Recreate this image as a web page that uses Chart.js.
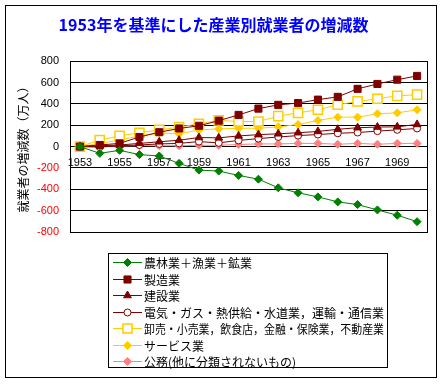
<!DOCTYPE html>
<html>
<head>
<meta charset="utf-8">
<script src="https://cdn.jsdelivr.net/npm/chart.js@4.4.0/dist/chart.umd.min.js"></script>
<style>
  html, body { margin: 0; padding: 0; background: #fff; }
</style>
</head>
<body>
<canvas id="chart_here" width="442" height="384"></canvas>
<script>
'use strict';
// chart data (change from 1953, in 10,000 persons)
var years = ['1953', '1954', '1955', '1956', '1957', '1958', '1959', '1960', '1961',
  '1962', '1963', '1964', '1965', '1966', '1967', '1968', '1969', '1970'];
var seriesNames = ['農林業＋漁業＋鉱業', '製造業', '建設業',
  '電気・ガス・熱供給・水道業，運輸・通信業', '卸売・小売業，飲食店，金融・保険業，不動産業',
  'サービス業', '公務(他に分類されないもの)'];
var agriculture = [0, -63, -35, -75, -88, -157, -220, -229, -270, -305, -386, -433, -471, -518, -543, -593, -643, -703];
var manufacturing = [0, 15, 30, 90, 135, 170, 195, 243, 297, 356, 391, 408, 440, 466, 541, 587, 627, 662];
var construction = [0, 8, 15, 30, 45, 60, 85, 82, 100, 112, 120, 130, 142, 162, 177, 183, 185, 208];
var utilities = [0, -5, 8, 15, 25, 30, 47, 35, 58, 75, 90, 103, 113, 125, 132, 145, 157, 170];
var trade = [0, 62, 100, 130, 156, 183, 213, 245, 235, 235, 285, 316, 345, 392, 423, 448, 476, 486];
var services = [0, 30, 62, 100, 128, 119, 156, 166, 172, 172, 185, 207, 245, 276, 276, 307, 316, 345];
var publicService = [0, 10, 5, 10, 8, 8, 12, 12, 20, 25, 25, 30, 30, 22, 30, 22, 30, 30];
var yTickMin = -800;
var yTickMax = 800;
var yTickStep = 200;

function makeSet(i, data, color, style, radius, fill) {
  return {
    label: seriesNames[i],
    data: data,
    borderColor: color,
    borderWidth: 1,
    pointStyle: style,
    pointRadius: radius,
    pointHoverRadius: radius,
    pointBackgroundColor: fill,
    pointBorderColor: color,
    pointBorderWidth: 1,
    tension: 0
  };
}

var datasets = [
  makeSet(0, agriculture, '#008000', 'rectRot', 4, '#008000'),
  makeSet(1, manufacturing, '#800000', 'rect', 5, '#800000'),
  makeSet(2, construction, '#800000', 'triangle', 4.5, '#800000'),
  makeSet(3, utilities, '#800000', 'circle', 3.5, '#ffffff'),
  makeSet(4, trade, '#FFCC00', 'rect', 6.5, '#ffffff'),
  makeSet(5, services, '#FFCC00', 'rectRot', 4, '#FFCC00'),
  makeSet(6, publicService, '#FF8080', 'rectRot', 4, '#FF8080')
];
datasets[4].pointBorderWidth = 1.5;

// white page, outer frame and plot frame
var frames = {
  id: 'frames',
  beforeDraw: function(chart) {
    var ctx = chart.ctx;
    ctx.save();
    ctx.fillStyle = '#fff';
    ctx.fillRect(0, 0, chart.width, chart.height);
    ctx.restore();
  },
  afterDraw: function(chart) {
    var ctx = chart.ctx;
    var a = chart.chartArea;
    ctx.save();
    ctx.strokeStyle = '#000';
    ctx.lineWidth = 1;
    ctx.strokeRect(5.5, 5.5, 431, 372);
    ctx.strokeRect(Math.round(a.left) + 0.5, Math.round(a.top) + 0.5,
      Math.round(a.right - a.left), Math.round(a.bottom - a.top));
    ctx.restore();
  }
};

// boxed legend, one series per row
var boxLegend = {
  id: 'boxLegend',
  afterDraw: function(chart) {
    var ctx = chart.ctx;
    ctx.save();
    ctx.strokeStyle = '#000';
    ctx.lineWidth = 1;
    ctx.strokeRect(108.5, 253.5, 279, 114);
    ctx.font = '12px "Noto Sans CJK JP"';
    ctx.textBaseline = 'middle';
    chart.data.datasets.forEach(function(ds, i) {
      var y = Math.round(262 + i * 16.5) + 0.5;
      ctx.strokeStyle = ds.borderColor;
      ctx.lineWidth = 1;
      ctx.beginPath();
      ctx.moveTo(113, y);
      ctx.lineTo(142, y);
      ctx.stroke();
      ctx.fillStyle = ds.pointBackgroundColor;
      ctx.strokeStyle = ds.pointBorderColor;
      ctx.lineWidth = ds.pointBorderWidth;
      Chart.helpers.drawPoint(ctx, {
        pointStyle: ds.pointStyle,
        radius: ds.pointRadius,
        borderWidth: ds.pointBorderWidth,
        rotation: 0
      }, 127.5, y);
      ctx.fillStyle = '#000';
      ctx.fillText(ds.label, 144, y + 1, 240);
    });
    ctx.restore();
  }
};

var ctx = document.getElementById('chart_here').getContext('2d');
var chart = new Chart(ctx, {
  type: 'line',
  data: { labels: years, datasets: datasets },
  plugins: [frames, boxLegend],
  options: {
    responsive: false,
    animation: false,
    devicePixelRatio: 1,
    layout: { padding: { left: 0, right: 15, top: 0, bottom: 152 } },
    plugins: {
      legend: { display: false },
      tooltip: { enabled: false },
      title: {
        display: true,
        text: '1953年を基準にした産業別就業者の増減数',
        color: '#0000FF',
        font: { family: '"Noto Sans CJK JP"', size: 16, weight: 'bold' },
        padding: { top: 15, bottom: 27 }
      }
    },
    scales: {
      x: {
        position: { y: 0 },
        offset: true,
        grid: { display: false, drawTicks: false },
        border: { display: false },
        ticks: {
          autoSkip: false,
          maxRotation: 0,
          padding: 10,
          color: '#000',
          font: { family: '"Liberation Sans"', size: 11 },
          callback: function(val, i) {
            return i % 2 === 0 ? this.getLabelForValue(val) : '';
          }
        }
      },
      y: {
        min: yTickMin,
        max: yTickMax,
        afterFit: function(scale) { scale.width = 70; },
        grid: { color: '#000', lineWidth: 1, drawTicks: false },
        border: { display: true, color: '#000', width: 1 },
        ticks: {
          stepSize: yTickStep,
          padding: 11,
          font: { family: '"Liberation Sans"', size: 11 },
          color: function(c) { return c.tick && c.tick.value < 0 ? '#FF0000' : '#000'; }
        },
        title: {
          display: true,
          text: '就業者の増減数（万人）',
          color: '#000',
          font: { family: '"Noto Sans CJK JP"', size: 12 },
          padding: { top: 16, bottom: 0 }
        }
      }
    }
  }
});
</script>
</body>
</html>
